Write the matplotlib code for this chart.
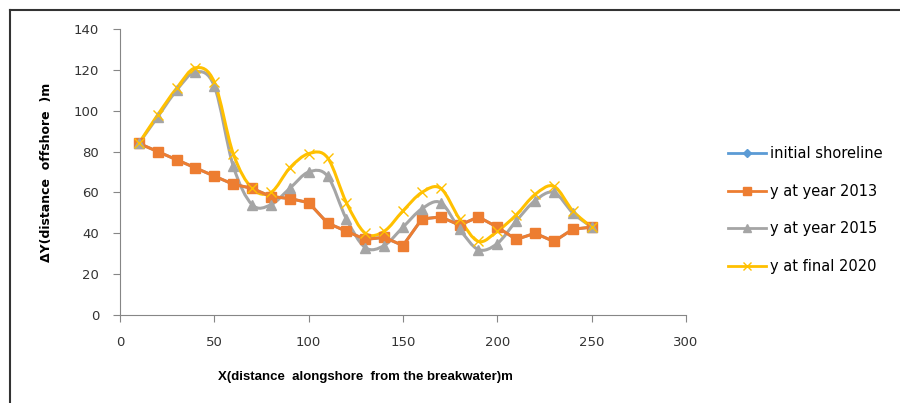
import matplotlib
matplotlib.use("Agg")
import matplotlib.pyplot as plt
from matplotlib.path import Path
from matplotlib.patches import PathPatch
from matplotlib.lines import Line2D

x = [10, 20, 30, 40, 50, 60, 70, 80, 90, 100, 110, 120, 130,
     140, 150, 160, 170, 180, 190, 200, 210, 220, 230, 240, 250]
y_2013 = [84, 80, 76, 72, 68, 64, 62, 58, 57, 55, 45, 41, 37,
          38, 34, 47, 48, 44, 48, 43, 37, 40, 36, 42, 43]
y_initial = y_2013
y_2015 = [84, 97, 110, 119, 112, 73, 54, 54, 62, 70, 68, 47, 33,
          34, 43, 52, 55, 42, 32, 35, 46, 56, 60, 50, 43]
y_2020 = [84, 98, 111, 121, 114, 79, 62, 60, 72, 79, 77, 55, 40,
          41, 51, 60, 62, 47, 36, 41, 49, 59, 63, 51, 43]

labels = ["initial shoreline", "y at year 2013", "y at year 2015", "y at final 2020"]
colors = ["#5B9BD5", "#ED7D31", "#A5A5A5", "#FFC000"]


def smooth_path(xs, ys):
    # excel-like smoothed line, cubic bezier through the points
    verts = [(xs[0], ys[0])]
    codes = [Path.MOVETO]
    n = len(xs)
    for i in range(n - 1):
        p0 = (xs[max(i - 1, 0)], ys[max(i - 1, 0)])
        p1 = (xs[i], ys[i])
        p2 = (xs[i + 1], ys[i + 1])
        p3 = (xs[min(i + 2, n - 1)], ys[min(i + 2, n - 1)])
        c1 = (p1[0] + (p2[0] - p0[0]) / 6, p1[1] + (p2[1] - p0[1]) / 6)
        c2 = (p2[0] - (p3[0] - p1[0]) / 6, p2[1] - (p3[1] - p1[1]) / 6)
        verts += [c1, c2, p2]
        codes += [Path.CURVE4] * 3
    return Path(verts, codes)


fig = plt.figure(figsize=(9, 4.03), dpi=100)
ax = fig.add_axes([120 / 900, 1 - 315 / 403, 566 / 900, 286 / 403])

# initial shoreline (hidden under 2013)
ax.plot(x, y_initial, color=colors[0], lw=2, marker="D", ms=4)
ax.plot(x, y_2013, color=colors[1], lw=2.2, marker="s", ms=7)

for ys, c, m in [(y_2015, colors[2], "^"), (y_2020, colors[3], "x")]:
    ax.add_patch(PathPatch(smooth_path(x, ys), fill=False, edgecolor=c, lw=2.2))
    if m == "x":
        ax.plot(x, ys, ls="none", marker=m, ms=7, mec=c, mew=1)
    else:
        ax.plot(x, ys, ls="none", marker=m, ms=7, color=c)

ax.set_xlim(0, 300)
ax.set_ylim(0, 140)
ax.set_xticks(range(0, 301, 50))
ax.set_yticks(range(0, 141, 20))
for s in ["top", "right"]:
    ax.spines[s].set_visible(False)
for s in ["left", "bottom"]:
    ax.spines[s].set_color("#868686")
ax.tick_params(colors="#868686", labelcolor="#333333", labelsize=9.5, length=5)
ax.tick_params(axis="x", pad=10)
ax.tick_params(axis="y", pad=10)

ax.set_xlabel("X(distance  alongshore  from the breakwater)m", fontsize=9.5,
              fontweight="bold", family="Liberation Sans")
ax.xaxis.set_label_coords(0.433, -0.195)
ax.set_ylabel("ΔY(distance  offshore  )m", fontsize=9, fontweight="bold", labelpad=15)

handles = [
    Line2D([], [], color=colors[0], lw=2, marker="D", ms=4),
    Line2D([], [], color=colors[1], lw=2, marker="s", ms=6),
    Line2D([], [], color=colors[2], lw=2, marker="^", ms=6),
    Line2D([], [], color=colors[3], lw=2, marker="x", ms=6, mew=1),
]
fig.legend(handles, labels, loc="upper left", bbox_to_anchor=(715 / 900, 1 - 133 / 403),
           frameon=False, fontsize=10.5, labelspacing=1.55, handlelength=2.6,
           handletextpad=0.3)

# frame: only top and left edges show in the picture
fig.add_artist(Line2D([10 / 900, 1], [1 - 10 / 403, 1 - 10 / 403],
                      transform=fig.transFigure, color="#333333", lw=1.5))
fig.add_artist(Line2D([10 / 900, 10 / 900], [0, 1 - 10 / 403],
                      transform=fig.transFigure, color="#333333", lw=1.5))

fig.savefig("out.png", dpi=100)
